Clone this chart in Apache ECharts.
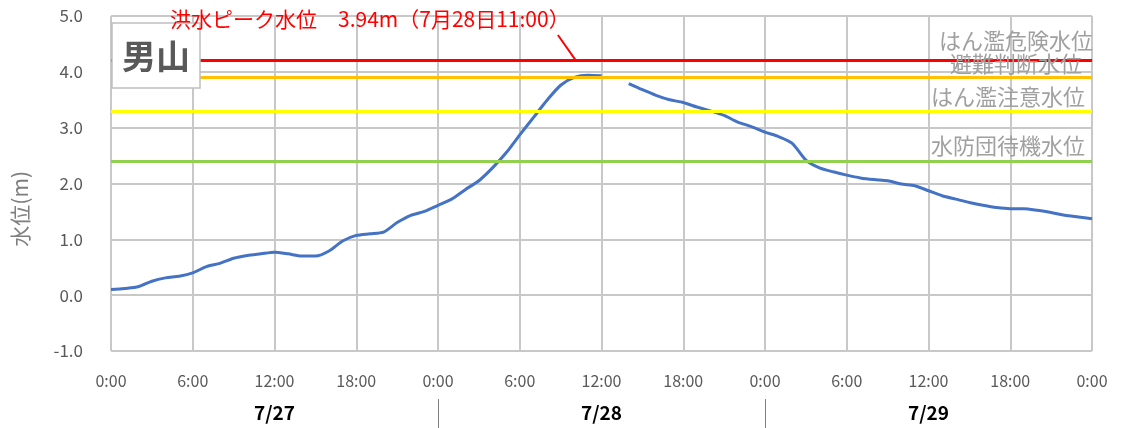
<!DOCTYPE html>
<html><head><meta charset="utf-8">
<script src="https://cdn.jsdelivr.net/npm/echarts@6/dist/echarts.min.js"></script>
<style>html,body{margin:0;padding:0;background:#fff}#c{width:1124px;height:428px}</style>
</head><body><div id="c"></div>
<script>
const stationName = '男山';
// hourly water level (m), index = hours since 7/27 0:00
const levels = [0.10,0.12,0.15,0.25,0.31,0.34,0.40,0.51,0.57,0.66,0.71,0.74,0.77,0.74,0.70,0.70,0.79,0.97,1.07,1.10,1.13,1.30,1.43,1.50,
  1.61,1.72,1.89,2.05,2.28,2.55,2.87,3.18,3.49,3.76,3.90,3.94,3.93,null,3.79,3.68,3.58,3.50,3.45,3.37,3.30,3.22,3.10,3.02,
  2.92,2.84,2.72,2.42,2.28,2.21,2.15,2.10,2.07,2.05,1.99,1.96,1.87,1.78,1.72,1.66,1.61,1.57,1.55,1.55,1.52,1.48,1.43,1.40,1.37];
const tickLabels = ['0:00','6:00','12:00','18:00','0:00','6:00','12:00','18:00','0:00','6:00','12:00','18:00','0:00'];
const dateLabels = ['7/27','7/28','7/29'];
const dateCenters = [12,36,60];
const dateSeparators = [24,48];
const thresholdNames = ['はん濫危険水位','避難判断水位','はん濫注意水位','水防団待機水位'];
const thresholdValues = [4.2,3.9,3.3,2.4];
const peakText = '洪水ピーク水位　3.94m（7月28日11:00）';
const peakArrowFrom = [32.8,4.66];
const peakArrowTo = [34.1,4.21];
const yAxisName = '水位(m)';

const FONT = '"Noto Sans CJK JP", "Noto Sans", sans-serif';
const thresholdColors = ['#ff0000','#ffc000','#ffff00','#92d050'];
const thresholdLabelDist = [[-1,9],[10,3],[7,3],[7,5]];

const chart = echarts.init(document.getElementById('c'));
chart.setOption({
  animation:false,
  textStyle:{fontFamily:FONT},
  grid:{left:111,right:32,top:16,bottom:77},
  title:[
    {text:stationName,left:112,top:23,padding:[12,10,11,10],borderColor:'#bfbfbf',borderWidth:1.5,backgroundColor:'#fff',
     textStyle:{fontSize:34,fontWeight:'bold',color:'#595959',fontFamily:FONT,lineHeight:42}},
    {text:peakText,left:170,top:9,padding:0,textStyle:{fontSize:21,fontWeight:'normal',color:'#ff0000',fontFamily:FONT}}
  ],
  graphic:[{type:'text',left:10,top:171,rotation:Math.PI/2,
    style:{text:yAxisName,fill:'#7f7f7f',font:'21px '+FONT}}],
  xAxis:[
    {type:'value',min:0,max:72,interval:6,
     axisLine:{show:true,lineStyle:{color:'#c8c8c8',width:2}},axisTick:{show:false},
     splitLine:{show:true,lineStyle:{color:'#c8c8c8',width:2}},
     axisLabel:{margin:22,fontSize:16,color:'#595959',fontFamily:FONT,formatter:v=>tickLabels[v/6]}},
    {type:'value',min:0,max:72,position:'bottom',offset:48,
     axisLine:{show:false},splitLine:{show:false},
     axisTick:{show:true,customValues:dateSeparators,length:30,lineStyle:{color:'#7f7f7f',width:1}},
     axisLabel:{show:true,customValues:dateCenters,margin:4,fontSize:19,fontWeight:'bold',color:'#000',fontFamily:FONT,
       formatter:v=>dateLabels[dateCenters.indexOf(v)]}}
  ],
  yAxis:{type:'value',min:-1,max:5,interval:1,
    axisLine:{show:false},axisTick:{show:false},
    splitLine:{show:true,lineStyle:{color:'#c8c8c8',width:2}},
    axisLabel:{margin:28,fontSize:17,color:'#595959',fontFamily:FONT,formatter:v=>v.toFixed(1)}},
  series:[
    {type:'line',data:[],z:1,silent:true,
     markLine:{symbol:'none',silent:true,
       data:thresholdValues.map((v,i)=>({yAxis:v,name:thresholdNames[i],
         lineStyle:{color:thresholdColors[i],width:3,type:'solid'},
         label:{show:true,position:'insideEndTop',formatter:'{b}',distance:thresholdLabelDist[i],
           fontSize:22,color:'#a0a0a0',fontFamily:FONT}}))}},
    {type:'line',z:3,smooth:0.25,connectNulls:false,showSymbol:false,
     data:levels.map((v,i)=>[i,v]),
     lineStyle:{color:'#4472c4',width:3},
     markLine:{symbol:'none',silent:true,label:{show:false},
       lineStyle:{color:'#ff0000',width:2,type:'solid'},
       data:[[{coord:peakArrowFrom},{coord:peakArrowTo}]]}}
  ]
});
</script></body></html>
